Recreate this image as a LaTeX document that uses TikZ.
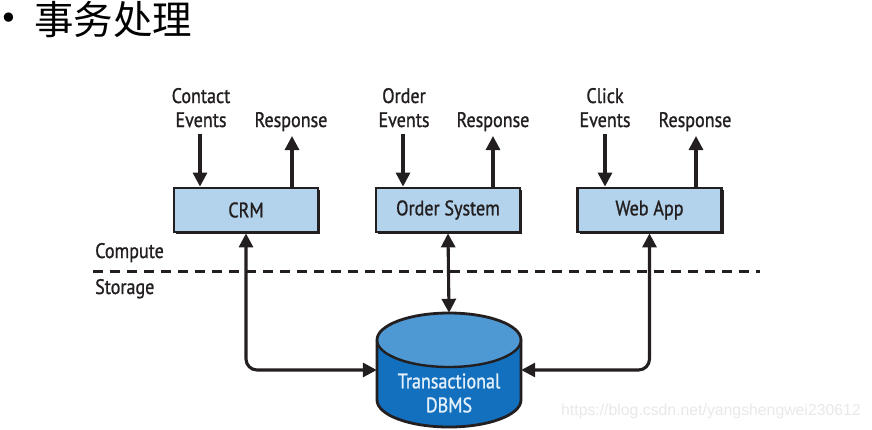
\documentclass[tikz,border=0pt]{standalone}
\usepackage{fontspec}
\setmainfont{PT Sans}[FakeStretch=0.86, FakeBold=1.1]
\newfontfamily\cjk{Noto Sans CJK SC}
\newfontfamily\wmfont{Liberation Sans}
\newfontfamily\symfont{DejaVu Sans}
\usetikzlibrary{arrows.meta,shadows}
\definecolor{boxblue}{HTML}{B3D3EC}
\definecolor{dbtop}{HTML}{4E98D3}
\definecolor{dbbody}{HTML}{1270BF}
\definecolor{ink}{HTML}{231F20}
\definecolor{dbtext}{HTML}{E4F0FA}
\tikzset{
  lbl/.style={inner sep=0pt, anchor=base, text=ink, font=\fontsize{21}{24}\selectfont},
  sysbox/.style={draw=ink, line width=2.8pt, fill=boxblue, minimum width=144pt, minimum height=44pt, inner sep=0pt,
    text=ink, font=\fontsize{21}{24}\selectfont,
    drop shadow={shadow xshift=2pt, shadow yshift=-2pt, fill=ink, opacity=1}},
  arr/.style={line width=3.1pt, draw=ink, -{Triangle[length=14pt,width=14pt]}},
  barr/.style={line width=3.1pt, draw=ink, {Triangle[length=14pt,width=14pt]}-{Triangle[length=14pt,width=14pt]}, rounded corners=11pt},
}
\begin{document}
\begin{tikzpicture}[x=1pt,y=-1pt]
\useasboundingbox (0,0) rectangle (872,429);
% title
\node[inner sep=0pt, anchor=center, font=\fontsize{32}{32}\selectfont\symfont] (bullet) at (8.5,21) {•};
\node[inner sep=0pt, anchor=west, font=\fontsize{39.5}{40}\selectfont\cjk] (title) at (34,20) {事务处理};
% boxes
\node[sysbox] (crm) at (246,210) {CRM};
\node[sysbox] (ord) at (448,210) {Order System};
\node[sysbox] (web) at (649.5,210) {Web App};
% labels
\node[lbl] (ce1) at (201,103) {Contact};
\node[lbl] (ce2) at (201,127) {Events};
\node[lbl] (cr) at (291,127) {Response};
\node[lbl] (oe1) at (404,103) {Order};
\node[lbl] (oe2) at (404,127) {Events};
\node[lbl] (or) at (493,127) {Response};
\node[lbl] (we1) at (605,103) {Click};
\node[lbl] (we2) at (605,127) {Events};
\node[lbl] (wr) at (695,127) {Response};
\coordinate (crmIn) at (200,134);
\coordinate (crmOut) at (292,136);
\coordinate (ordIn) at (403,134);
\coordinate (ordOut) at (493,136);
\coordinate (webIn) at (605,134);
\coordinate (webOut) at (696,136);
\draw[arr] (crmIn) -- (crmIn |- crm.north);
\draw[arr] (crmOut |- crm.north) -- (crmOut);
\draw[arr] (ordIn) -- (ordIn |- ord.north);
\draw[arr] (ordOut |- ord.north) -- (ordOut);
\draw[arr] (webIn) -- (webIn |- web.north);
\draw[arr] (webOut |- web.north) -- (webOut);
% compute / storage
\node[lbl, anchor=base west] (compute) at (95,258) {Compute};
\node[lbl, anchor=base west] (storage) at (95,294) {Storage};
\coordinate (dashL) at (93,271);
\coordinate (dashR) at (760,271);
\draw[line width=3pt, draw=ink, dash pattern=on 10pt off 7pt] (dashL) -- (dashR);
% DBMS cylinder
\node[minimum width=144pt, minimum height=114pt, inner sep=0pt] (dbms) at (449,370) {};
\fill[dbbody] (377,340) -- (377,400) arc[start angle=180, end angle=0, x radius=72, y radius=27] -- (521,340) arc[start angle=0, end angle=-180, x radius=72, y radius=27] -- cycle;
\fill[dbtop] (449,340) ellipse[x radius=72, y radius=27];
\draw[ink, line width=2.4pt] (377,340) arc[start angle=180, end angle=0, x radius=72, y radius=27];
\draw[ink, line width=2.8pt] (377,340) -- (377,400) arc[start angle=180, end angle=0, x radius=72, y radius=27] -- (521,340) arc[start angle=0, end angle=-180, x radius=72, y radius=27] -- cycle;
\node[inner sep=0pt, align=center, text=dbtext, font=\fontsize{21}{24}\selectfont] (dbtxt) at (449,393) {Transactional\\DBMS};
% connectors
\draw[barr] (crm.south) -- (crm.south |- dbms.west) -- (dbms.west);
\draw[barr] (ord.south) -- (dbms.north);
\draw[barr] (web.south) -- (web.south |- dbms.east) -- (dbms.east);
% watermark
\node[inner sep=0pt, anchor=base west, text=black!9, font=\fontsize{15.8}{16}\selectfont\wmfont] (wm) at (561,415) {https://blog.csdn.net/yangshengwei230612};
\end{tikzpicture}
\end{document}
